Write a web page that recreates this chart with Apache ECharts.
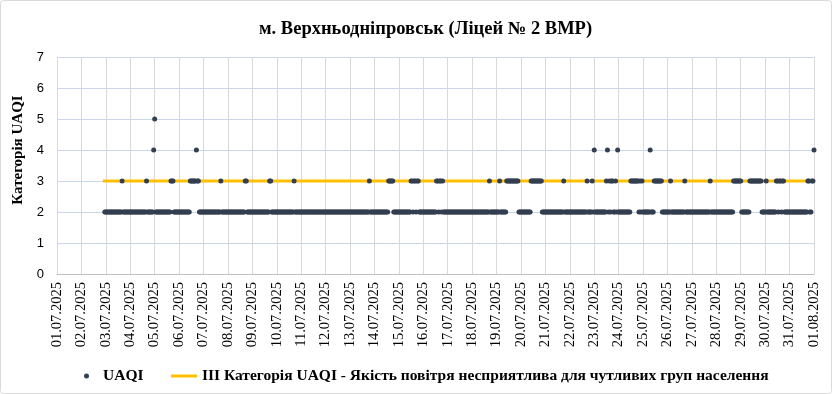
<!DOCTYPE html>
<html>
<head>
<meta charset="utf-8">
<script src="https://cdn.jsdelivr.net/npm/echarts@6/dist/echarts.min.js"></script>
<style>
html,body{margin:0;padding:0;background:#fff;}
#chart{width:832px;height:394px;}
</style>
</head>
<body>
<div id="chart"></div>
<script>
// Tick labels (one per day, 24 hours apart)
var dateLabels = ['01.07.2025','02.07.2025','03.07.2025','04.07.2025','05.07.2025','06.07.2025','07.07.2025','08.07.2025','09.07.2025','10.07.2025','11.07.2025','12.07.2025','13.07.2025','14.07.2025','15.07.2025','16.07.2025','17.07.2025','18.07.2025','19.07.2025','20.07.2025','21.07.2025','22.07.2025','23.07.2025','24.07.2025','25.07.2025','26.07.2025','27.07.2025','28.07.2025','29.07.2025','30.07.2025','31.07.2025','01.08.2025'];

// Hourly UAQI category, one string per day (hour 0..23), '.' = no data
var uaqiByDay = [
  '........................',
  '.......................2',
  '222222222222222232222222',
  '222222222222222232222224',
  '522222222222222233322222',
  '222222222223333334332222',
  '222222222222222223222222',
  '222222222222222223322222',
  '222222222222222223322222',
  '222222222222222223222222',
  '222222222222222222222222',
  '222222222222222222222222',
  '222222222222222222232222',
  '222222222222223333322222',
  '222222222222332332332222',
  '222222222222233233232222',
  '222222222222222222222222',
  '222222222222222223222222',
  '222322222233333333333322',
  '222222222233333333333222',
  '222222222222222222322222',
  '222222222222222223222232',
  '422222222222342323322324',
  '222222222222333333332323',
  '222222242223333333322222',
  '222322222222222223222222',
  '222222222222222222322222',
  '222222222222222223333333',
  '322222222333333333333222',
  '232222222223323323322222',
  '222222222222222222332233',
  '4'
];

// III category threshold line
var thresholdValue = 3;
var thresholdStartHour = 45;
var thresholdEndHour = 744;

var seriesNames = ['UAQI', 'III Категорія UAQI - Якість повітря несприятлива для чутливих груп населення'];
var titleText = 'м. Верхньодніпровськ (Ліцей № 2 ВМР)';
var yAxisTitle = 'Категорія UAQI';

var uaqiData = [];
uaqiByDay.forEach(function (s, d) {
  for (var h = 0; h < s.length; h++) {
    var c = s.charAt(h);
    if (c !== '.') uaqiData.push([d * 24 + h, Number(c)]);
  }
});
var lineData = [[thresholdStartHour, thresholdValue], [thresholdEndHour, thresholdValue]];

var chart = echarts.init(document.getElementById('chart'), null, {renderer: 'canvas'});
var serif = '"Liberation Serif", "Times New Roman", serif';
chart.setOption({
  animation: false,
  backgroundColor: '#fff',
  graphic: [{
    type: 'rect', shape: {x: 0.5, y: 0.5, width: 831, height: 393, r: 3},
    style: {fill: 'none', stroke: '#d9d9d9', lineWidth: 1}, silent: true, z: -10
  }, {
    type: 'text', x: 18, y: 150, rotation: Math.PI / 2, silent: true,
    style: {text: yAxisTitle, fill: '#000', font: 'bold 15px ' + serif, textAlign: 'center', textVerticalAlign: 'middle'}
  }],
  title: {
    text: titleText,
    left: 259, top: 20, padding: 0,
    textStyle: {fontFamily: serif, fontWeight: 'bold', fontSize: 18.5, color: '#000'}
  },
  legend: [{
    data: [{name: seriesNames[0], icon: 'circle'}],
    left: 84, top: 368, padding: 0, itemWidth: 5, itemHeight: 5,
    textStyle: {fontFamily: serif, fontWeight: 'bold', fontSize: 15.5, color: '#000', padding: [0, 0, 0, 9]}
  }, {
    data: [{name: seriesNames[1], icon: 'rect'}],
    left: 171, top: 368, padding: 0, itemWidth: 26, itemHeight: 3,
    textStyle: {fontFamily: serif, fontWeight: 'bold', fontSize: 15.5, color: '#000'}
  }],
  grid: {left: 57, right: 18, top: 57, bottom: 120},
  xAxis: {
    type: 'value', min: 0, max: 744, interval: 24,
    axisLine: {show: true, lineStyle: {color: '#bfbfbf', width: 1}},
    axisTick: {show: false},
    splitLine: {show: true, lineStyle: {color: '#d9d9d9', width: 1}},
    axisLabel: {
      rotate: 90, margin: 8,
      fontFamily: serif, fontSize: 14.5, color: '#000',
      formatter: function (v) { var i = Math.round(v / 24); return dateLabels[i] || ''; }
    }
  },
  yAxis: {
    type: 'value', min: 0, max: 7, interval: 1,
    axisLine: {show: false}, axisTick: {show: false},
    splitLine: {show: true, lineStyle: {color: '#c9d6ea', width: 1}},
    axisLabel: {margin: 13, fontFamily: '"Liberation Sans", Arial, sans-serif', fontSize: 13, color: '#000'}
  },
  series: [{
    name: seriesNames[1], type: 'line', data: lineData, showSymbol: false, symbol: 'none',
    lineStyle: {color: '#ffc000', width: 3}, itemStyle: {color: '#ffc000'}, z: 2
  }, {
    name: seriesNames[0], type: 'scatter', data: uaqiData, symbolSize: 5,
    itemStyle: {color: '#333f50', opacity: 1}, z: 3
  }]
});
</script>
</body>
</html>
